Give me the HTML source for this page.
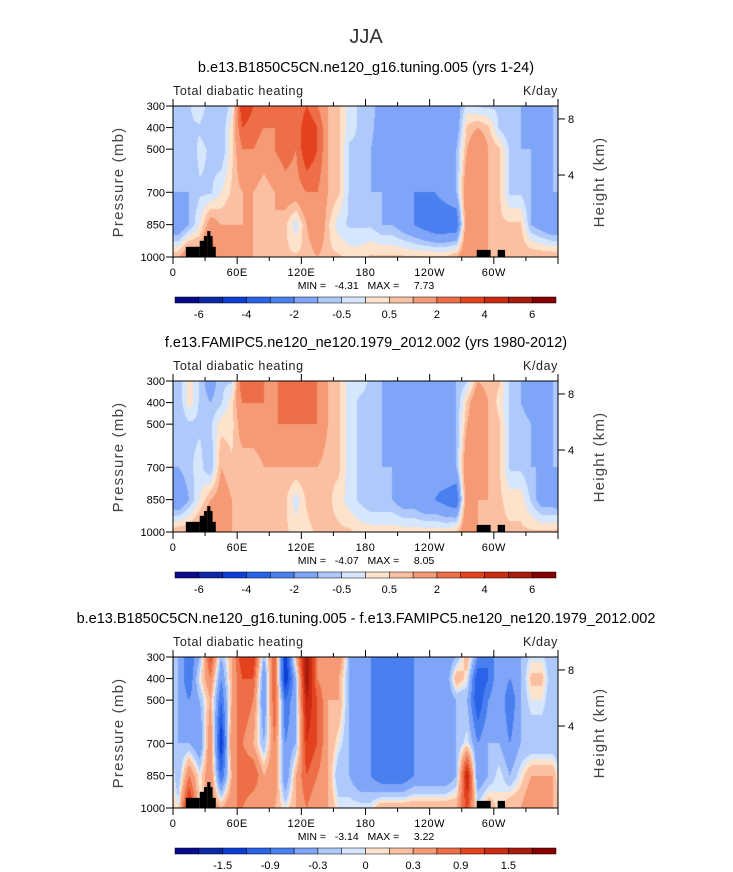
<!DOCTYPE html>
<html><head><meta charset="utf-8"><style>
body{margin:0;background:#fff;width:733px;height:872px;position:relative;overflow:hidden;font-family:"Liberation Sans",sans-serif;color:#000}
.t{position:absolute;white-space:nowrap}
</style></head><body>
<svg id="s" width="733" height="872" style="position:absolute;left:0;top:0"></svg>
<script>
// ---- data ----
const levels=[300,400,500,700,850,1000];
const lonCenters=[5,15,25,35,45,55,65,75,85,95,105,115,125,135,145,155,165,175,185,195,205,215,225,235,245,255,265,275,285,295,305,315,325,335,345,355];
// each row = one longitude bin, values at levels 300..1000 (K/day)
const panel1Vals=[[-1,-1,-1,-1,-2,1],[-0.6,-0.6,-1,-1,-1,2],[0,-0.6,-0.3,-0.6,0,1.5],[-1,-1,-0.6,-0.6,1.5,3],[-1,-1,-1,0,1,1],[-0.3,0.3,0.3,0.6,1,1],[4,3,2,1,1,1],[3,2.5,2,1,1,1],[2,2,1.5,0.6,1,0.6],[2,2,2,1,1,0.6],[2.5,3,2.5,1.5,0.6,0.6],[2,2,2,1.5,-0.3,0.6],[3,4,4,2,1,0.6],[2,3,3,2,2,1],[1,1,1,1,0.6,0.6],[0.6,0.6,0.6,0.6,-0.3,0.6],[-0.3,-0.3,-0.6,-0.6,-0.6,0.3],[-0.6,-0.6,-0.6,-0.6,-0.6,0.3],[-0.6,-0.6,-1,-1,-0.6,0.6],[-1.5,-2,-2,-1,-1,0.6],[-2,-2,-2,-1.5,-1,0.6],[-2,-2,-2,-2,-1.5,0.6],[-2,-2,-2,-2,-2,0.6],[-2,-2,-2,-2,-2.5,0.6],[-2,-2,-2,-2,-3,0.6],[-2,-2,-1.5,-1.5,-3,0.6],[-1.5,-1.5,-1,-1,-3,1],[-0.3,0.6,1,2,2,2],[-0.6,1,2,2,1,1],[-0.6,0.6,1,1,1,1],[-0.6,-0.6,0.6,0.6,0.6,1],[-1,-1,-0.6,-0.6,0.6,1],[-1,-1,-1,-0.6,0.6,1],[-2,-2,-1,-1,-1,1],[-2,-2,-2,-1,-1.5,1],[-1,-1,-1,-1,-2,1]];
const panel2Vals=[[-1,-1,-1,-1,-2,1],[0.3,0.3,-0.6,-0.6,-1,1],[-0.6,-0.6,-0.6,-0.3,0,1.5],[-1.5,-1,-0.6,-1,1,2.5],[-0.6,-0.6,0.3,1,1.5,1],[-0.6,0.3,0.3,0.6,1,1],[3,2,1.5,0.6,0.6,0.6],[2,2,1.5,0.6,0.6,0.6],[2,2,1.5,1,0.6,0.6],[1.5,1.5,2,1,0.6,0.6],[3,3,2,1,0.6,0.6],[2,2,2,1,-0.3,0.3],[2,2.5,2,1,0.6,0.3],[2,2,2,1,1,0.6],[1,1,1,0.6,0.6,0.6],[0.6,0.6,0.6,0.6,0.3,0.6],[-0.3,-0.3,-0.3,-0.3,-0.3,0.6],[-0.3,-0.6,-0.6,-0.6,-0.6,0.3],[-0.6,-0.6,-0.6,-1,-1,0.3],[-1,-1,-1,-1,-1,0.3],[-1.5,-1.5,-1.5,-1,-1,0.3],[-1.5,-1.5,-1.5,-1.5,-1.5,0.3],[-1.5,-2,-2,-1.5,-1.5,0.3],[-2,-2,-2,-1.5,-2,0.3],[-2,-2,-2,-1.5,-2,0.3],[-1.5,-1.5,-1.5,-1,-2.5,0.3],[-1,-1,-1,-1,-3,0.6],[-0.6,0.6,1,2,2,2],[1,2,2,2,1,1],[0.6,1,1,1,1,0.6],[0.6,0.3,0.6,0.6,0.6,0.6],[-0.6,-0.6,-0.6,-0.6,0.3,0.6],[-1,-1,-0.6,-0.6,0.3,0.6],[-1.5,-1.5,-1,-1,-0.6,0.6],[-2,-2,-1.5,-1,-1.5,0.6],[-1,-1,-1,-1,-1.5,0.6]];
const panel3Vals=[[-0.3,-0.3,-0.3,-0.3,-0.3,0],[-0.9,-0.9,-0.6,-0.3,0.6,1.5],[-0.3,0,-0.3,-0.6,0,0],[1,0.6,0.3,0.6,0.6,0.6],[-0.3,-0.6,-0.9,-1.5,-0.9,0.3],[0.3,0.3,0.3,0.6,0.3,0.6],[1.2,0.9,0.9,0.6,0.9,0.6],[1.2,0.9,0.6,0.3,0.9,0.3],[-0.3,-0.6,-0.6,-0.3,0.3,0.3],[0.9,0.9,0.9,0.6,0.6,0.3],[-1.5,-1.5,-0.9,-0.6,-0.6,0],[0.3,-0.3,-0.3,-0.3,0.3,0.3],[1.8,1.8,1.5,1.2,0.9,0.6],[0.6,0.6,0.9,0.9,0.6,0.3],[0.3,0.3,0.3,0.3,0.3,0.3],[0.6,0.3,0.3,0,-0.3,0],[-0.3,-0.3,-0.3,-0.3,-0.3,0],[-0.6,-0.6,-0.6,-0.6,-0.6,0],[-0.6,-0.6,-0.6,-0.6,-0.6,0],[-0.6,-0.9,-0.9,-0.9,-0.9,0.3],[-0.6,-0.9,-0.9,-0.9,-0.9,0.3],[-0.6,-0.9,-0.9,-0.9,-0.9,0.3],[-0.6,-0.6,-0.6,-0.6,-0.6,0.3],[-0.6,-0.6,-0.6,-0.6,-0.6,0.3],[-0.6,-0.6,-0.6,-0.3,-0.6,0.3],[-0.6,-0.6,-0.6,-0.3,-0.6,0.3],[-0.3,0.3,-0.3,-0.3,-0.3,0.3],[0.3,0,-0.3,0,1.5,1],[-0.6,-1.2,-1.2,-0.6,-0.6,0],[-0.9,-0.9,-0.6,-0.3,-0.3,0.3],[-0.3,-0.3,-0.3,-0.3,0,0],[-0.6,-0.6,-0.9,-0.6,-0.3,0.3],[-0.3,-0.3,-0.3,-0.3,0,0.3],[-0.05,0.15,0,-0.3,0.3,0.6],[-0.05,0.15,0,-0.3,0.3,0.6],[-0.3,-0.3,-0.3,-0.3,0.3,0.3]];
const bounds1=[-6,-5,-4,-3,-2,-1,-0.5,0,0.5,1,2,3,4,5,6];
const bounds3=[-1.8,-1.5,-1.2,-0.9,-0.6,-0.3,-0.1,0,0.1,0.3,0.6,0.9,1.2,1.5,1.8];
const cbLabels1=["-6","-4","-2","-0.5","0.5","2","4","6"];
const cbLabels3=["-1.5","-0.9","-0.3","0","0.3","0.9","1.5"];
const topoLon0=[12,25,29,32,35,37,284,303.6];
const topoLon1=[25,29,32,35,37,40,297,310.5];
const topoTop=[953,925,903,880,903,953,967,967];
const xTickLabels=["0","60E","120E","180","120W","60W"];
const xTickLons=[0,60,120,180,240,300];
const pLabels=[300,400,500,700,850,1000];
const hLabels=["8","4"];const hPress=[360,620];
const colors=["#0a0a8c","#0c27a8","#0d3fd6","#2b63e8","#4a7ff0","#7ea5f7","#aec9fa","#d6e6fc","#fde3cc","#fbc0a2","#f59a75","#ee6e48","#e4421f","#cc2a12","#a81c0c","#870000"];
const panels=[
 {top:106,title:"b.e13.B1850C5CN.ne120_g16.tuning.005 (yrs 1-24)",vals:panel1Vals,b:bounds1,labs:cbLabels1,labIdx:[0,2,4,6,8,10,12,14],mn:"-4.31",mx:"7.73"},
 {top:381,title:"f.e13.FAMIPC5.ne120_ne120.1979_2012.002 (yrs 1980-2012)",vals:panel2Vals,b:bounds1,labs:cbLabels1,labIdx:[0,2,4,6,8,10,12,14],mn:"-4.07",mx:"8.05"},
 {top:657,title:"b.e13.B1850C5CN.ne120_g16.tuning.005 - f.e13.FAMIPC5.ne120_ne120.1979_2012.002",vals:panel3Vals,b:bounds3,labs:cbLabels3,labIdx:[1,3,5,7,9,11,13],mn:"-3.14",mx:"3.22"}];
// ---- drawing ----
const S=document.getElementById('s');const NS="http://www.w3.org/2000/svg";
const X0=173,W=385,H=151;
function el(t,a,p){const e=document.createElementNS(NS,t);for(const k in a)e.setAttribute(k,a[k]);(p||S).appendChild(e);return e;}
function xs(lon){return X0+lon/360*W;}
function ys(p,top){return top+(p-300)/700*H;}
function txt(x,y,s,size,anchor,name,extra){const e=el('text',Object.assign({x:x,y:y,'font-size':size,'text-anchor':anchor||'start','font-family':'Liberation Sans, sans-serif'},extra||{}));e.textContent=s;return e;}
function val(vals,lon,p){
 let i=0;let fx;
 if(lon<=lonCenters[0]){i=35;fx=(lon+5)/10;} else if(lon>=lonCenters[35]){i=35;fx=(lon-355)/10;} else {i=Math.floor((lon-5)/10);fx=(lon-lonCenters[i])/10;}
 const i2=(i+1)%36;let j=0;while(j<4&&p>levels[j+1])j++;const fy=(p-levels[j])/(levels[j+1]-levels[j]);
 const a=vals[i][j]*(1-fx)+vals[i2][j]*fx,b=vals[i][j+1]*(1-fx)+vals[i2][j+1]*fx;return Math.round((a*(1-fy)+b*fy)*1e6)/1e6;}
function ci(v,b){let k=0;while(k<b.length&&v>=b[k])k++;return k;}
txt(366,43,"JJA",20,'middle','figure-title',{fill:'#333'});
panels.forEach((P,pi)=>{
 const top=P.top;const g=el('g',{});
 txt(366,top-34,P.title,14.5,'middle','panel-title');
 txt(X0,top-11,"Total diabatic heating",12.5,'start','variable-label',{'letter-spacing':'0.6',fill:'#222'});
 txt(X0+W,top-11,"K/day",12.5,'end','units-label',{'letter-spacing':'0.6',fill:'#222'});
 const fo=el('foreignObject',{x:X0,y:top,width:W,height:H},g);
 const cv=document.createElement('canvas');cv.width=W;cv.height=H;fo.appendChild(cv);
 
 
 const c=cv.getContext('2d');
 for(let px=0;px<W;px+=1)for(let py=0;py<H;py+=1){const lon=(px+0.5)/W*360,p=300+(py+0.5)/H*700;c.fillStyle=colors[ci(val(P.vals,lon,p),P.b)];c.fillRect(px,py,1,1);}
 for(let k=0;k<topoTop.length;k++){const r=el('rect',{x:xs(topoLon0[k]),y:ys(topoTop[k],top),width:xs(topoLon1[k])-xs(topoLon0[k]),height:ys(1000,top)-ys(topoTop[k],top),fill:'#000'},g);}
 el('rect',{x:X0,y:top,width:W,height:H,fill:'none',stroke:'#000','stroke-width':1},g);
 for(let l=0;l<=360;l+=30){const maj=l%60==0;el('line',{x1:xs(l),x2:xs(l),y1:top,y2:top-(maj?7:4),stroke:'#000'},g);el('line',{x1:xs(l),x2:xs(l),y1:top+H,y2:top+H+(maj?7:4),stroke:'#000'},g);}
 xTickLabels.forEach((s,k)=>txt(xs(xTickLons[k]),top+H+19,s,11,'middle','x-tick-label',{'letter-spacing':'0.5'}));
 pLabels.forEach(p=>{el('line',{x1:X0-7,x2:X0,y1:ys(p,top),y2:ys(p,top),stroke:'#000'},g);txt(X0-8,ys(p,top)+4,String(p),11,'end','y-tick-label');});
 hLabels.forEach((s,k)=>{el('line',{x1:X0+W,x2:X0+W+7,y1:ys(hPress[k],top),y2:ys(hPress[k],top),stroke:'#000'},g);txt(X0+W+10,ys(hPress[k],top)+4,s,11,'start','height-tick-label');});
 txt(0,0,"Pressure (mb)",15,'middle','y-axis-title',{transform:`translate(123,${top+76}) rotate(-90)`,'letter-spacing':'1.2',fill:'#444'});
 txt(0,0,"Height (km)",15,'middle','right-axis-title',{transform:`translate(604,${top+76}) rotate(-90)`,'letter-spacing':'1.2',fill:'#444'});
 txt(366,top+H+32,"MIN =   "+P.mn+"   MAX =     "+P.mx,10.5,'middle','min-max-label',{style:'white-space:pre'});
 const cbY=top+191,cbW=381/16;
 colors.forEach((col,k)=>{const r=el('rect',{x:175+k*cbW,y:cbY,width:cbW,height:6,fill:col,stroke:'#000','stroke-width':0.5},g);});
 P.labs.forEach((s,k)=>txt(175+(P.labIdx[k]+1)*cbW,cbY+21,s,11,'middle','colorbar-label'));
});
</script>
</body></html>
